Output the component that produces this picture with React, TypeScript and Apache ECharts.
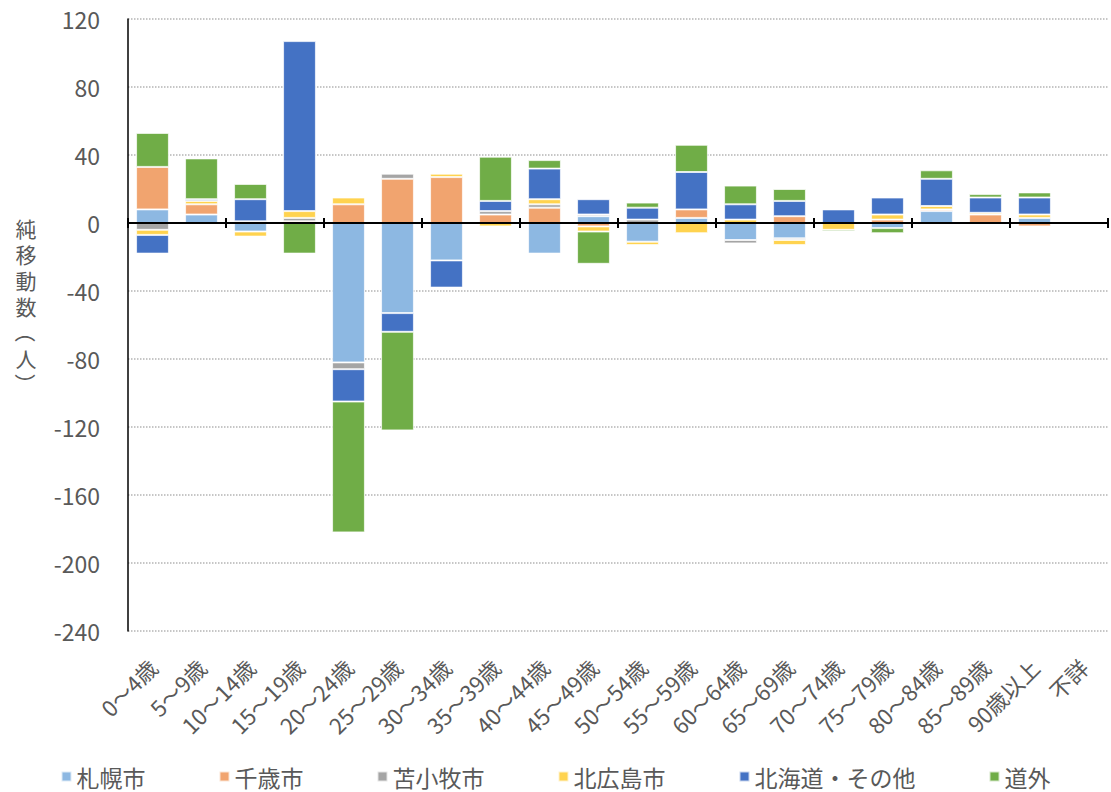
import { useEffect, useRef } from 'react';
import * as echarts from 'echarts';

const FONT = "'Noto Sans CJK JP', 'Noto Sans', sans-serif";

const categories = [
  '0～4歳', '5～9歳', '10～14歳', '15～19歳', '20～24歳', '25～29歳', '30～34歳',
  '35～39歳', '40～44歳', '45～49歳', '50～54歳', '55～59歳', '60～64歳', '65～69歳',
  '70～74歳', '75～79歳', '80～84歳', '85～89歳', '90歳以上', '不詳',
];

const sapporo = [8, 5, -5, 0, -82, -53, -22, 0, -18, 4, -11, 3, -10, -9, 0, -3, 7, 0, 3, 0];
const chitose = [25, 6, 0, 1, 11, 26, 27, 5, 9, -2, 0, 5, 0, 4, 0, 2, 1, 5, -2, 0];
const tomakomai = [-4, 0, 1, 2, -4, 3, 0, 2, 2, 1, 2, 0, -2, -1, 0, 0, 0, 0, 0, 0];
const kitahiroshima = [-3, 2, -3, 4, 4, 0, 2, -2, 3, -3, -2, -6, 2, -3, -4, 3, 2, 1, 2, 0];
const hokkaidoOther = [-11, 1, 13, 100, -19, -11, -16, 6, 18, 9, 7, 22, 9, 9, 8, 10, 16, 9, 10, 0];
const outside = [20, 24, 9, -18, -77, -58, 0, 26, 5, -19, 3, 16, 11, 7, -1, -3, 5, 2, 3, 0];

const seriesNames = ['札幌市', '千歳市', '苫小牧市', '北広島市', '北海道・その他', '道外'];
const seriesColors = ['#8DB8E2', '#F1A46F', '#A5A5A5', '#FFD34F', '#4472C4', '#70AD47'];
const seriesData = [sapporo, chitose, tomakomai, kitahiroshima, hokkaidoOther, outside];

const yMin = -240;
const yMax = 120;
const yStep = 40;

export default function App() {
  const chartRef = useRef<HTMLDivElement>(null);

  useEffect(() => {
    if (!chartRef.current) return;
    const chart = echarts.init(chartRef.current, null, { renderer: 'svg' });

    const tickStyle = { color: '#000', width: 2 };
    const nameStyle = { fontSize: 21, fill: '#595959', fontFamily: FONT, align: 'center', verticalAlign: 'middle' };

    const option: echarts.EChartsOption = {
      animation: false,
      textStyle: { fontFamily: FONT },
      grid: { left: 128, right: 3, top: 19, bottom: 161 },
      legend: {
        top: 765,
        left: 'center',
        padding: 0,
        itemGap: 73,
        itemWidth: 10,
        itemHeight: 10,
        icon: 'rect',
        textStyle: { fontSize: 23, color: '#595959', fontFamily: FONT },
        data: seriesNames,
      },
      xAxis: [
        {
          // line at zero with upward ticks
          type: 'category',
          data: categories,
          position: 'bottom',
          z: 10,
          axisLine: { onZero: true, onZeroAxisIndex: 0, lineStyle: tickStyle },
          axisTick: { show: true, inside: true, length: 5, lineStyle: tickStyle },
          axisLabel: { show: false },
        },
        {
          // downward ticks at zero
          type: 'category',
          data: categories,
          position: 'bottom',
          z: 10,
          axisLine: { show: false, onZero: true, onZeroAxisIndex: 1 },
          axisTick: { show: true, inside: false, length: 5, lineStyle: tickStyle },
          axisLabel: { show: false },
        },
        {
          // labels at the bottom of the plot
          type: 'category',
          data: categories,
          position: 'bottom',
          axisLine: { show: false, onZero: false },
          axisTick: { show: false },
          axisLabel: {
            interval: 0,
            rotate: 45,
            margin: 32,
            fontSize: 22,
            color: '#595959',
            fontFamily: FONT,
          },
        },
      ],
      yAxis: [
        {
          type: 'value',
          min: yMin,
          max: yMax,
          interval: yStep,
          axisLine: { show: true, lineStyle: { color: '#000', width: 1.5 } },
          axisTick: { show: false },
          axisLabel: { margin: 28, fontSize: 23, color: '#595959', fontFamily: FONT },
          splitLine: { lineStyle: { type: 'dotted', color: '#b4b4b4', width: 1.5 } },
        },
        {
          type: 'value',
          min: yMin,
          max: yMax,
          interval: yStep,
          position: 'left',
          show: false,
          splitLine: { show: false },
        },
      ],
      graphic: [
        {
          type: 'text',
          x: 26,
          y: 267,
          style: { ...nameStyle, text: '純\n移\n動\n数', lineHeight: 26 },
        },
        {
          type: 'text',
          x: 26,
          y: 332,
          rotation: -Math.PI / 2,
          style: { ...nameStyle, text: '（', lineHeight: 22 },
        },
        {
          type: 'text',
          x: 26,
          y: 358,
          style: { ...nameStyle, text: '人', lineHeight: 24 },
        },
        {
          type: 'text',
          x: 26,
          y: 384,
          rotation: -Math.PI / 2,
          style: { ...nameStyle, text: '）', lineHeight: 22 },
        },
      ],
      series: seriesNames.map((name, i) => ({
        name,
        type: 'bar',
        stack: 'total',
        barWidth: '67%',
        data: seriesData[i].map(v => (v === 0 ? null : v)),
        itemStyle: {
          color: seriesColors[i],
          borderColor: 'rgba(255,255,255,0.7)',
          borderWidth: 1,
        },
      })),
    };

    chart.setOption(option);

    return () => {
      chart.dispose();
    };
  }, []);

  return (
    <div
      ref={chartRef}
      style={{ position: 'fixed', left: 0, top: 0, width: 1111, height: 792, background: '#fff' }}
    />
  );
}
